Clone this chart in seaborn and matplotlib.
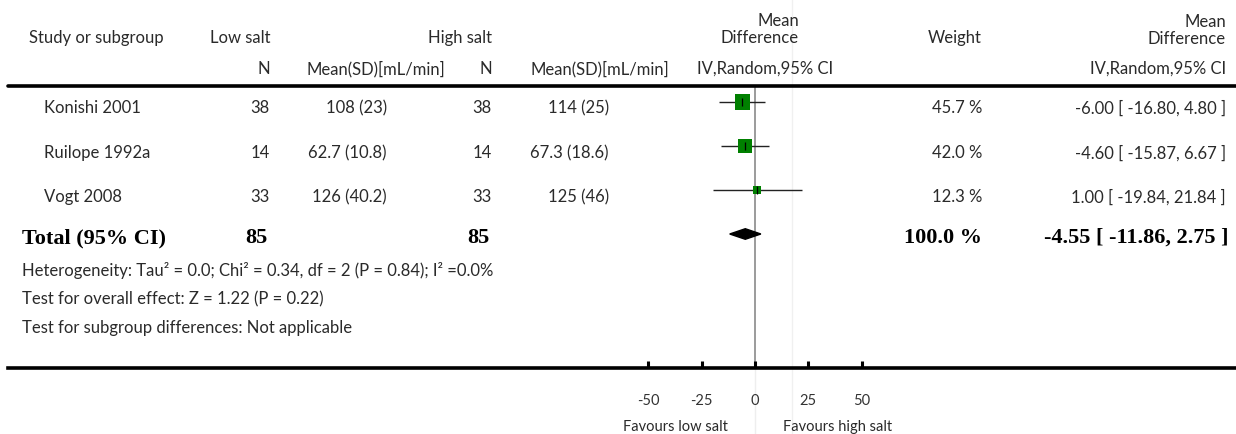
import matplotlib
matplotlib.use("Agg")
import matplotlib.pyplot as plt
import matplotlib.transforms as mtransforms
from matplotlib.patches import Polygon
import seaborn as sns
import pandas as pd
import numpy as np

# ---------------- data ----------------
studies = ["Konishi 2001", "Ruilope 1992a", "Vogt 2008"]
low_n = [38, 14, 33]
low_mean_sd = ["108 (23)", "62.7 (10.8)", "126 (40.2)"]
high_n = [38, 14, 33]
high_mean_sd = ["114 (25)", "67.3 (18.6)", "125 (46)"]
md = [-6.00, -4.60, 1.00]
ci_low = [-16.80, -15.87, -19.84]
ci_high = [4.80, 6.67, 21.84]
weights = [45.7, 42.0, 12.3]
total_n_low = 85
total_n_high = 85
total_md = -4.55
total_ci = [-11.86, 2.75]
total_weight = 100.0
tick_values = [-50, -25, 0, 25, 50]
heterogeneity = "Heterogeneity: Tau\u00b2 = 0.0; Chi\u00b2 = 0.34, df = 2 (P = 0.84); I\u00b2 =0.0%"
overall = "Test for overall effect: Z = 1.22 (P = 0.22)"
subgroup = "Test for subgroup differences: Not applicable"

df = pd.DataFrame({"study": studies, "md": md, "lo": ci_low, "hi": ci_high,
                   "w": weights, "row": np.arange(len(studies))})

# ---------------- figure ----------------
sns.set_theme(style="white")
plt.rcParams["font.family"] = ["Lato", "DejaVu Sans"]
W, H = 1236, 435
fig = plt.figure(figsize=(W / 100, H / 100), dpi=100)

# pixel transform for text placement
T = mtransforms.Affine2D().scale(1 / W, -1 / H).translate(0, 1) + fig.transFigure

# forest axes covering full figure; scale 0 -> 755px, 2.133 px / unit
ppu = 2.133
x0 = 755
xlim = (-x0 / ppu, (W - x0) / ppu)
row_px0, row_step = 103, 44
ylim = ((H - row_px0) / row_step, (0 - row_px0) / row_step)

ax = fig.add_axes([0, 0, 1, 1])
ax.set_xlim(*xlim)
ax.set_ylim(*ylim)
ax.axis("off")

# reference line at zero
zero_top = (87 - row_px0) / row_step
zero_bot = (369 - row_px0) / row_step
ax.plot([0, 0], [zero_top, zero_bot], color="#808080", lw=1.1, zorder=1)
ax.plot([0, 0], [zero_bot, ylim[0]], color="#eeeeee", lw=1.0, zorder=0)
ax.axvline((792 - x0) / ppu, color="#f0f0f0", lw=1.0, zorder=0)

# CI lines
ax.hlines(df["row"], df["lo"], df["hi"], color="#222222", lw=1.0, zorder=2)
# weight squares
sizes = {s: (1.6 * np.sqrt(w)) ** 2 for s, w in zip(studies, weights)}
sns.scatterplot(data=df, x="md", y="row", hue="study", size="study", sizes=sizes,
                palette=["#008000"] * 3, marker="s", linewidth=0, legend=False,
                ax=ax, zorder=3)
ax.scatter(df["md"], df["row"], marker="|", s=30, color="black", linewidths=0.9, zorder=4)

# diamond
trow = len(studies)
dh = 0.12
ax.add_patch(Polygon([[total_ci[0], trow], [total_md, trow - dh], [total_ci[1], trow],
                      [total_md, trow + dh]], closed=True, color="black", zorder=3))

# horizontal rules
ax.axhline((87 - row_px0) / row_step, xmin=8 / W, xmax=1, color="black", lw=2.6)

# bottom axis
axx = fig.add_axes([0, (H - 369) / H, 1, 0.02])
axx.set_xlim(*xlim)
axx.set_facecolor("none")
for s in ["top", "left", "right"]:
    axx.spines[s].set_visible(False)
axx.spines["bottom"].set_linewidth(2.6)
axx.spines["bottom"].set_color("black")
axx.spines["bottom"].set_bounds((8 - x0) / ppu, xlim[1])
axx.set_yticks([])
axx.set_xticks(tick_values)
axx.set_xticklabels([str(v) for v in tick_values])
axx.tick_params(axis="x", direction="in", length=5, width=2.2, color="black",
                pad=18, labelsize=10.5, labelcolor="#333333", bottom=True)

# ---------------- texts ----------------
fs = 12
col = "#2a2a2a"
def t(x, y, s, ha="left", size=fs, **kw):
    fig.text(x, y, s, transform=T, ha=ha, va="center", fontsize=size, color=kw.pop("color", col), **kw)

t(29, 38, "Study or subgroup")
t(270, 38, "Low salt", ha="right")
t(492, 38, "High salt", ha="right")
t(799, 21, "Mean", ha="right")
t(799, 38, "Difference", ha="right")
t(982, 38, "Weight", ha="right")
t(1226, 22, "Mean", ha="right")
t(1226, 39, "Difference", ha="right")

t(270, 69, "N", ha="right")
t(307, 69, "Mean(SD)[mL/min]")
t(492, 69, "N", ha="right")
t(531, 69, "Mean(SD)[mL/min]")
t(697, 69, "IV,Random,95% CI")
t(1226, 69, "IV,Random,95% CI", ha="right")

row_text_y = [108, 153, 197]
for i, y in enumerate(row_text_y):
    t(44, y, studies[i])
    t(270, y, str(low_n[i]), ha="right")
    t(387, y, low_mean_sd[i], ha="right")
    t(492, y, str(high_n[i]), ha="right")
    t(609, y, high_mean_sd[i], ha="right")
    t(982, y, f"{weights[i]:.1f} %", ha="right")
    t(1226, y, f"{md[i]:.2f} [ {ci_low[i]:.2f}, {ci_high[i]:.2f} ]", ha="right")

bold = dict(size=16, fontweight="bold", family=["Liberation Serif"], color="black")
t(22, 238, "Total (95% CI)", **bold)
t(268, 238, str(total_n_low), ha="right", **bold)
t(490, 238, str(total_n_high), ha="right", **bold)
t(982, 238, f"{total_weight:.1f} %", ha="right", **bold)
t(1228, 238, f"{total_md:.2f} [ {total_ci[0]:.2f}, {total_ci[1]:.2f} ]", ha="right", **bold)

t(22, 271, heterogeneity)
t(22, 299, overall)
t(22, 328, subgroup)

t(728, 427, "Favours low salt", ha="right", size=10.5)
t(783, 427, "Favours high salt", size=10.5)

fig.savefig("out.png", dpi=100)
